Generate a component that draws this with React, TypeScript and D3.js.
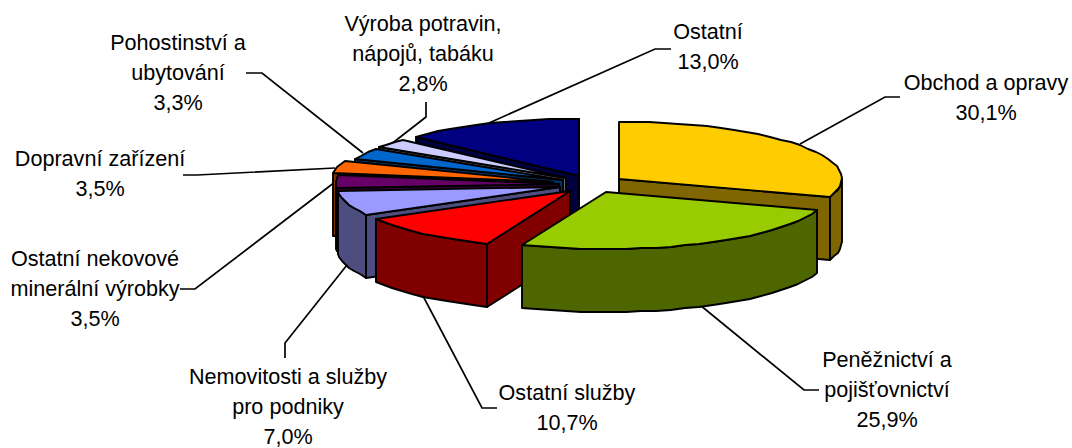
import React from 'react';
import * as d3 from 'd3';

const categories = [
  'Obchod a opravy',
  'Peněžnictví a pojišťovnictví',
  'Ostatní služby',
  'Nemovitosti a služby pro podniky',
  'Ostatní nekovové minerální výrobky',
  'Dopravní zařízení',
  'Pohostinství a ubytování',
  'Výroba potravin, nápojů, tabáku',
  'Ostatní',
];
const shares = [30.1, 25.9, 10.7, 7.0, 3.5, 3.5, 3.3, 2.8, 13.0];
const topColors = ['#FFCC00', '#99CC00', '#FF0000', '#9999FF', '#660066', '#FF6600', '#0066CC', '#CCCCFF', '#000080'];
const sideColors = ['#806600', '#4D6600', '#800000', '#4D4D80', '#330033', '#803300', '#003366', '#666680', '#000040'];

// back to front, indexes into the arrays above
const drawOrder = [8, 7, 6, 5, 4, 3, 2, 0, 1];

// label text split in lines + where it sits, leader runs from rim to label
const labelLayout = [
  { lines: ['Obchod a opravy', '30,1%'], cx: 986, y: [90, 120], leader: [[800, 144], [885, 97], [900, 97]] },
  { lines: ['Peněžnictví a', 'pojišťovnictví', '25,9%'], cx: 887, y: [367, 397, 427], leader: [[700, 305], [804, 390], [819, 390]] },
  { lines: ['Ostatní služby', '10,7%'], cx: 567, y: [400, 430], leader: [[423, 296], [482, 408], [497, 408]] },
  { lines: ['Nemovitosti a služby', 'pro podniky', '7,0%'], cx: 288, y: [384, 414, 444], leader: [[347, 265], [285, 343], [285, 358]] },
  { lines: ['Ostatní nekovové', 'minerální výrobky', '3,5%'], cx: 95, y: [266, 296, 326], leader: [[335, 182], [195, 289], [180, 289]] },
  { lines: ['Dopravní zařízení', '3,5%'], cx: 100, y: [166, 196], leader: [[335, 168], [197, 175], [183, 175]] },
  { lines: ['Pohostinství a', 'ubytování', '3,3%'], cx: 178, y: [50, 80, 110], leader: [[363, 153], [262, 73], [246, 73]] },
  { lines: ['Výroba potravin,', 'nápojů, tabáku', '2,8%'], cx: 423, y: [31, 61, 91], leader: [[390, 145], [426, 117], [426, 102]] },
  { lines: ['Ostatní', '13,0%'], cx: 708, y: [39, 69], leader: [[489, 123], [655, 49], [671, 49]] },
];

const width = 1072;
const height = 448;
const cx = 592;
const cy = 184;
const rx = 223;
const ry = 57;
const depth = 63;
const explode = 33;
const explodeY = 9;
// the orange slice sits a bit further out than the rest in the picture
const nudgeX = [0, 0, 0, 0, 0, -7, 0, 0, 0];

const pie = d3.pie<number>().sort(null).startAngle(0).endAngle(2 * Math.PI);
const arcs = pie(shares);

const line = d3.line();

const App: React.FC = () => {
  const slices = drawOrder.map(i => {
    const { startAngle: a0, endAngle: a1 } = arcs[i];
    const mid = (a0 + a1) / 2;
    const ox = cx + explode * Math.sin(mid) + nudgeX[i];
    const oy = cy - explodeY * Math.cos(mid);
    const rim = (a: number, dz = 0): [number, number] => [
      Math.round(ox + rx * Math.sin(a)),
      Math.round(oy - ry * Math.cos(a) + dz),
    ];
    const sample = (from: number, to: number) => {
      const n = Math.max(1, Math.ceil((to - from) / 0.07));
      return d3.range(n + 1).map(k => from + ((to - from) * k) / n);
    };
    const apex: [number, number] = [Math.round(ox), Math.round(oy)];
    const apexLow: [number, number] = [apex[0], apex[1] + depth];
    const topFace = line([apex, ...sample(a0, a1).map(a => rim(a))]) + 'Z';
    const wall = (a: number) => line([apex, rim(a), rim(a, depth), apexLow]) + 'Z';

    const sides: string[] = [];
    if (Math.sin(a0) < 0) sides.push(wall(a0));
    if (Math.sin(a1) > 0) sides.push(wall(a1));
    const from = Math.max(a0, Math.PI / 2);
    const to = Math.min(a1, (3 * Math.PI) / 2);
    if (to > from) {
      const pts = sample(from, to);
      sides.push(line([...pts.map(a => rim(a)), ...pts.slice().reverse().map(a => rim(a, depth))]) + 'Z');
    }
    return { i, topFace, sides };
  });

  return (
    <svg
      width={width}
      height={height}
      style={{ position: 'absolute', left: 0, top: 0, background: '#fff' }}
      fontFamily="'Liberation Sans', Arial, sans-serif"
      fontSize={21.6}
    >
      <title>{categories.join(', ')}</title>
      {labelLayout.map((l, i) => (
        <path key={i} d={line(l.leader as [number, number][]) ?? ''} fill="none" stroke="#000" strokeWidth={1.7} />
      ))}
      {slices.map(s => (
        <g key={s.i} stroke="#000" strokeWidth={1.9} strokeLinejoin="round">
          {s.sides.map((d, k) => (
            <path key={k} d={d} fill={sideColors[s.i]} />
          ))}
          <path d={s.topFace} fill={topColors[s.i]} />
        </g>
      ))}
      {labelLayout.map((l, i) =>
        l.lines.map((t, k) => (
          <text key={`${i}-${k}`} x={l.cx} y={l.y[k]} textAnchor="middle" fill="#000">
            {t}
          </text>
        ))
      )}
    </svg>
  );
};

export default App;
